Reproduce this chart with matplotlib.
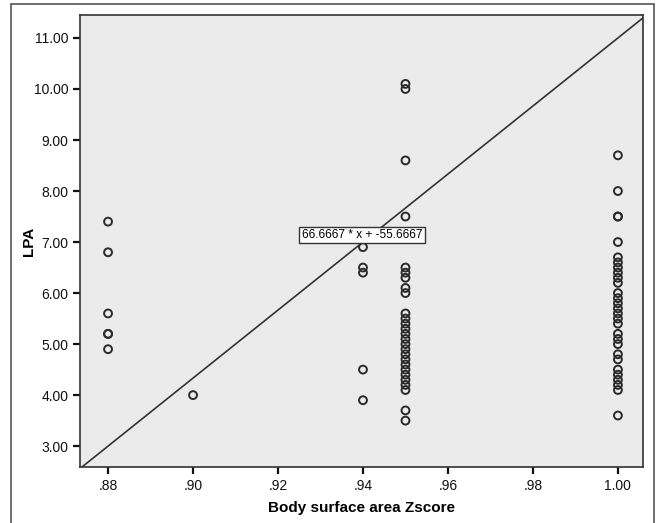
import numpy as np
import matplotlib.pyplot as plt
from matplotlib.patches import Rectangle

plt.rcParams['font.family'] = ['Liberation Sans', 'DejaVu Sans']

# LPA values grouped by body surface area Zscore
bsa_088 = [7.4, 6.8, 5.6, 5.2, 5.2, 4.9]
bsa_090 = [4.0]
bsa_094 = [6.9, 6.5, 6.4, 4.5, 3.9]
bsa_095 = [10.1, 10.0, 8.6, 7.5, 6.5, 6.4, 6.3, 6.1, 6.0,
           5.6, 5.5, 5.4, 5.3, 5.2, 5.1, 5.0, 4.9, 4.8, 4.7, 4.6, 4.5, 4.4, 4.3, 4.2, 4.1,
           3.7, 3.5]
bsa_100 = [8.7, 8.0, 7.5, 7.5, 7.0, 6.7, 6.6, 6.5, 6.4, 6.3, 6.2, 6.0, 5.9, 5.8, 5.7,
           5.6, 5.5, 5.4, 5.2, 5.1, 5.0, 4.8, 4.7, 4.5, 4.4, 4.3, 4.2, 4.1, 3.6]

groups = {0.88: bsa_088, 0.90: bsa_090, 0.94: bsa_094, 0.95: bsa_095, 1.00: bsa_100}

# fitted line
slope = 66.6667
intercept = -55.6667

x_ticks = [0.88, 0.90, 0.92, 0.94, 0.96, 0.98, 1.00]
x_labels = ['.88', '.90', '.92', '.94', '.96', '.98', '1.00']
y_ticks = [3, 4, 5, 6, 7, 8, 9, 10, 11]

fig = plt.figure(figsize=(6.59, 5.23), dpi=100)
ax = fig.add_axes([0.1214, 0.107, 0.8543, 0.8643])
ax.set_facecolor('#ebebeb')

# outer frame around the chart
fig.patches.append(Rectangle((11 / 659, -0.01), (654 - 11) / 659, 1 - 4 / 523 + 0.01,
                             transform=fig.transFigure, fill=False,
                             edgecolor='#555555', linewidth=1.2))

for xv, ys in groups.items():
    ax.scatter(np.full(len(ys), xv), ys, s=32, facecolors='none',
               edgecolors='#2a2a2a', linewidths=1.4, zorder=3)

xlim = (0.8734, 1.0059)
ax.set_xlim(xlim)
ax.set_ylim(2.59, 11.45)
xs = np.array(xlim)
ax.plot(xs, slope * xs + intercept, color='#333333', linewidth=1.2, zorder=2)

ax.text(0.9398, 7.14, '66.6667 * x + -55.6667', ha='center', va='center',
        fontsize=8.6, zorder=4,
        bbox=dict(boxstyle='square,pad=0.2', facecolor='white',
                  edgecolor='#333333', linewidth=1.0))

ax.set_xticks(x_ticks)
ax.set_xticklabels(x_labels)
ax.set_yticks(y_ticks)
ax.set_yticklabels(['%.2f' % v for v in y_ticks])
ax.tick_params(direction='out', length=5, width=1.6, labelsize=10, color='#111111',
               labelcolor='#111111')
for sp in ax.spines.values():
    sp.set_linewidth(1.2)
    sp.set_color('#333333')

ax.set_xlabel('Body surface area Zscore', fontsize=11, fontweight='bold', labelpad=6)
ax.set_ylabel('LPA', fontsize=11, fontweight='bold')
ax.yaxis.set_label_coords(-0.078, 0.5)

fig.savefig('out.png', dpi=100)
